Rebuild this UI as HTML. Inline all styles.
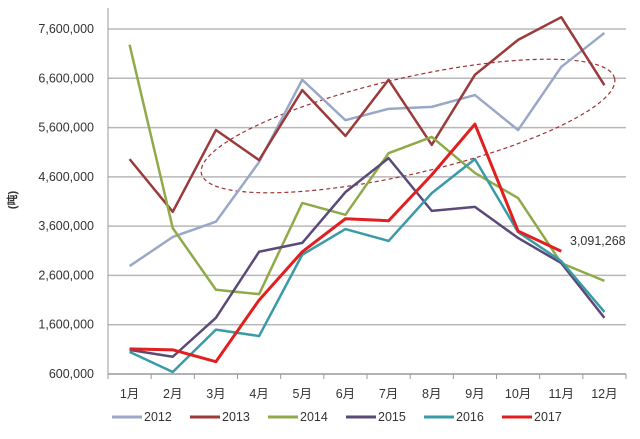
<!DOCTYPE html>
<html><head><meta charset="utf-8"><style>
body{margin:0;background:#fff;}
svg text{font-family:"Liberation Sans","Noto Sans CJK SC",sans-serif;fill:#333;}
</style></head><body>
<svg id="chart" width="640" height="434" viewBox="0 0 640 434" xmlns="http://www.w3.org/2000/svg">
<g id="grid"></g>
<g id="yaxis"></g>
<g id="xaxis"></g>
<text x="16" y="200" font-size="11" font-weight="bold" transform="rotate(-90 16 200)" text-anchor="middle">(吨)</text>
<ellipse cx="408" cy="126" rx="212" ry="48" transform="rotate(-13 408 126)" fill="none" stroke="#a03030" stroke-width="1.2" stroke-dasharray="4,3"/>
<g id="series"></g>
<text x="570" y="245" font-size="12.5">3,091,268</text>
<g id="legend"></g>
</svg>
<script>
const categories=["1月","2月","3月","4月","5月","6月","7月","8月","9月","10月","11月","12月"];
const yTicks=[600000,1600000,2600000,3600000,4600000,5600000,6600000,7600000];
const seriesNames=["2012","2013","2014","2015","2016","2017"];
const seriesColors=["#9aa8c8","#9b3a3a","#8faa48","#5a4a78","#3a9aa8","#e02020"];
const s2012=[2.79,3.38,3.69,4.9,6.57,5.75,5.98,6.02,6.26,5.55,6.83,7.52];
const s2013=[4.96,3.89,5.55,4.94,6.36,5.43,6.57,5.25,6.67,7.38,7.84,6.46];
const s2014=[7.28,3.56,2.31,2.22,4.07,3.83,5.08,5.41,4.68,4.17,2.85,2.49];
const s2015=[1.09,0.95,1.74,3.08,3.26,4.29,4.98,3.91,3.99,3.36,2.85,1.74];
const s2016=[1.05,0.64,1.5,1.37,3.02,3.54,3.3,4.27,4.96,3.48,2.89,1.86];
const s2017=[1.11,1.09,0.85,2.1,3.08,3.75,3.71,4.64,5.67,3.5,3.091268];
const allSeries=[s2012,s2013,s2014,s2015,s2016,s2017];
const NS="http://www.w3.org/2000/svg";
const L=108,R=626,T=29,B=374,ymin=600000,ymax=7600000;
const bw=(R-L)/categories.length;
function x(i){return L+bw*(i+0.5);}
function y(v){return B-(v-ymin)/(ymax-ymin)*(B-T);}
function mk(tag,parent,attrs){const e=document.createElementNS(NS,tag);for(const k in attrs)e.setAttribute(k,attrs[k]);parent.appendChild(e);return e;}
const grid=document.getElementById('grid'),ya=document.getElementById('yaxis'),xa=document.getElementById('xaxis');
yTicks.forEach(t=>{
  const gl=mk('line',grid,{x1:L,x2:R,y1:y(t),y2:y(t),stroke:t===ymin?'#999':'#b8b8b8','stroke-width':1.5});
  
  
  const tx=mk('text',ya,{x:L-14,y:y(t)+4,'font-size':12.5,'text-anchor':'end'});
  tx.textContent=t.toLocaleString('en-US');
  
  
});
mk('line',ya,{x1:L,x2:L,y1:8,y2:B,stroke:'#999','stroke-width':1});
categories.forEach((c,i)=>{
  mk('line',xa,{x1:L+bw*i,x2:L+bw*i,y1:B,y2:B+5,stroke:'#999'});
  const tx=mk('text',xa,{x:x(i),y:B+24,'font-size':12.5,'text-anchor':'middle'});
  tx.textContent=c;
  
  
});
mk('line',xa,{x1:R,x2:R,y1:B,y2:B+5,stroke:'#999'});
const sg=document.getElementById('series');
allSeries.forEach((s,k)=>{
  const pts=s.map((v,i)=>x(i)+','+y(v*1e6)).join(' ');
  const p=mk('polyline',sg,{points:pts,fill:'none',stroke:seriesColors[k],'stroke-width':k===5?3:2.5,'stroke-linejoin':'round'});
  
  
});
const lg=document.getElementById('legend');
const lx=[112,190,268,346,424,502];
seriesNames.forEach((n,k)=>{
  const g=mk('g',lg,{});
  
  
  mk('line',g,{x1:lx[k],x2:lx[k]+30,y1:417,y2:417,stroke:seriesColors[k],'stroke-width':3});
  const t=mk('text',g,{x:lx[k]+32,y:421,'font-size':12.5});
  t.textContent=n;
});
</script>
</body></html>
